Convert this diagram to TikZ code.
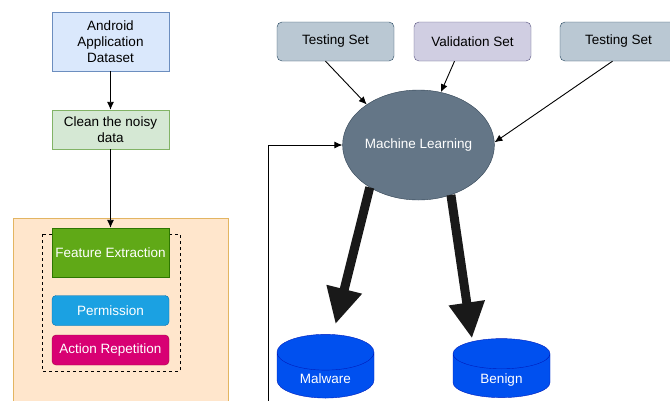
\documentclass[tikz,border=0pt]{standalone}
\usepackage{fontspec}
\setmainfont{Liberation Sans}
\usetikzlibrary{arrows.meta,positioning,shapes.geometric}

\definecolor{dsfill}{HTML}{DAE8FC}
\definecolor{dsline}{HTML}{6C8EBF}
\definecolor{clfill}{HTML}{D5E8D4}
\definecolor{clline}{HTML}{82B366}
\definecolor{orfill}{HTML}{FFE6CC}
\definecolor{orline}{HTML}{E3B562}
\definecolor{featfill}{HTML}{60A917}
\definecolor{featline}{HTML}{2D7600}
\definecolor{permfill}{HTML}{1BA1E2}
\definecolor{permline}{HTML}{006EAF}
\definecolor{actfill}{HTML}{D80073}
\definecolor{actline}{HTML}{A50040}
\definecolor{tsfill}{HTML}{BAC8D3}
\definecolor{tsline}{HTML}{23445D}
\definecolor{vsfill}{HTML}{D0CEE2}
\definecolor{vsline}{HTML}{56517E}
\definecolor{mlfill}{HTML}{647687}
\definecolor{mlline}{HTML}{314354}
\definecolor{dbfill}{HTML}{0050EF}
\definecolor{dbline}{HTML}{001DBC}

\begin{document}
\begin{tikzpicture}[x=1pt, y=-1pt, font=\fontsize{13.5}{16}\selectfont,
    >={Latex[length=8pt,width=7pt]}, box/.style={draw, minimum width=117pt,
      align=center, inner sep=2pt}, setbox/.style={box, rounded
      corners=5pt, minimum height=39pt}, tag/.style={box, rounded
      corners=4pt, minimum height=30pt, text=white}, db/.style={cylinder,
      shape border rotate=90, aspect=0.62, draw=dbline, fill=dbfill,
      minimum width=97pt, minimum height=59pt, text=white, text
      height=9.7pt, text depth=-27pt}, arrow/.style={->, line width=0.9pt},
    fat/.style={-{Triangle[width=34pt,length=36pt]}, line width=9pt,
      draw=black!90} ]

    \clip (0,0) rectangle (670,400);

    \draw[draw=orline, fill=orfill] (13,218) rectangle (228,410);
    \draw[dashed] (42,234) rectangle (180,371);

    \node[box, fill=dsfill, draw=dsline, minimum height=59pt] (ds) at
    (110.5,41.5) {Android\\Application\\Dataset};
    \node[box, fill=clfill, draw=clline, minimum height=39pt] (clean) at
    (110.5,129.5) {Clean the noisy\\data};
    \node[box, fill=featfill, draw=featline, text=white, minimum
    height=49pt] (feat) at (110.5,252.5) {Feature Extraction};
    \node[tag, fill=permfill, draw=permline] (perm) at (110.5,310.5)
    {Permission};
    \node[tag, fill=actfill, draw=actline] (act) at (110.5,350)
    {Action Repetition};

    \draw[arrow] (ds) -- (clean);
    \draw[arrow] (clean) -- (feat);

    \node[setbox, fill=tsfill, draw=tsline] (test1) at (335.5,41.5)
    {Testing Set};
    \node[setbox, fill=vsfill, draw=vsline] (valid) at (472.5,41.5)
    {Validation Set};
    \node[setbox, fill=tsfill, draw=tsline] (test2) at (618.5,41.5)
    {Testing Set};

    \node[ellipse, draw=mlline, fill=mlfill, text=white, minimum
    width=147pt, minimum height=110pt, inner sep=0pt] (ml) at (418.5,145)
    {Machine Learning};

    \draw[arrow] ([xshift=-10pt]test1.south) -- (ml.142);
    \draw[arrow] ([xshift=-18pt]valid.south) -- (ml.67);
    \draw[arrow] ([xshift=-6pt]test2.south) -- (ml.2);

    \coordinate (loop) at (268,410);
    \draw[arrow] (loop) |- (ml.west);

    \node[db] (mal) at (325.5,378.5) {Malware};
    \node[db] (ben) at (501.5,378.5) {Benign};

    \draw[fat] (ml.221) -- ([xshift=10pt,yshift=10pt]mal.north);
    \draw[fat] (ml.303) -- ([xshift=-29.5pt]ben.north);

  \end{tikzpicture}
\end{document}
